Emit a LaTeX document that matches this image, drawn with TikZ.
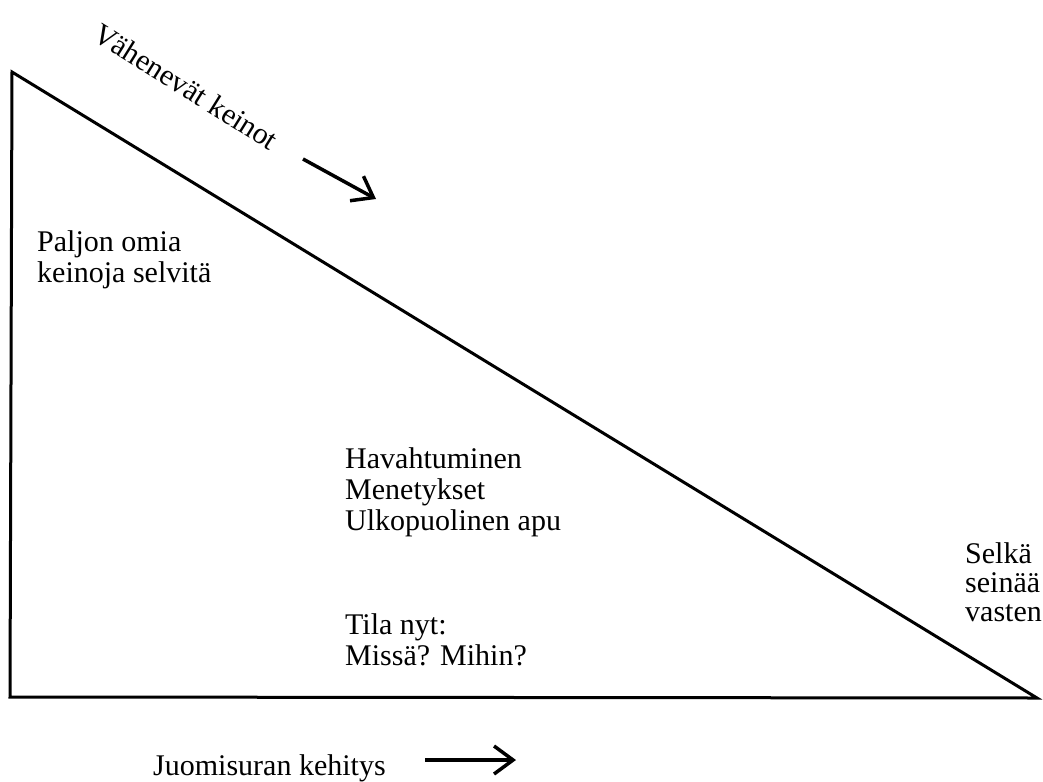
\documentclass[tikz,border=0pt]{standalone}
\usepackage{fontspec}
\setmainfont{Liberation Serif}
\usetikzlibrary{arrows.meta}
\tikzset{
  edge/.style={line width=3pt, line join=miter},
  arr/.style={line width=3.5pt, -{Straight Barb[length=19pt, width=28pt, line width=3.5pt]}},
  lbl/.style={inner sep=0pt, anchor=base west, align=left, font={\fontsize{30}{31}\selectfont}},
  tight/.style={font={\fontsize{30}{29}\selectfont}}
}
\begin{document}
\begin{tikzpicture}[x=1pt,y=-1pt]
\useasboundingbox (0,0) rectangle (1043,781);
\coordinate (A) at (12,72);
\coordinate (B) at (10,697);
\coordinate (C) at (1037,698);
\draw[edge] (A) -- (B) -- (C) -- cycle;
\node[lbl, rotate=-32] (title) at (91,39) {Vähenevät keinot};
\coordinate (t1) at (303,159);
\coordinate (t2) at (376,199);
\draw[arr] (t1) -- (t2);
\node[lbl] (paljon) at (37,282) {Paljon omia\\keinoja selvitä};
\node[lbl] (havahtuminen) at (345,530) {Havahtuminen\\Menetykset\\Ulkopuolinen apu};
\node[lbl] (tila) at (345,665) {Tila nyt:\\Missä? Mihin?};
\node[lbl, tight] (selka) at (965,621) {Selkä\\seinää\\vasten};
\node[lbl] (juomis) at (153,775) {Juomisuran kehitys};
\coordinate (b1) at (425,760);
\coordinate (b2) at (516,760);
\draw[arr] (b1) -- (b2);
\end{tikzpicture}
\end{document}
